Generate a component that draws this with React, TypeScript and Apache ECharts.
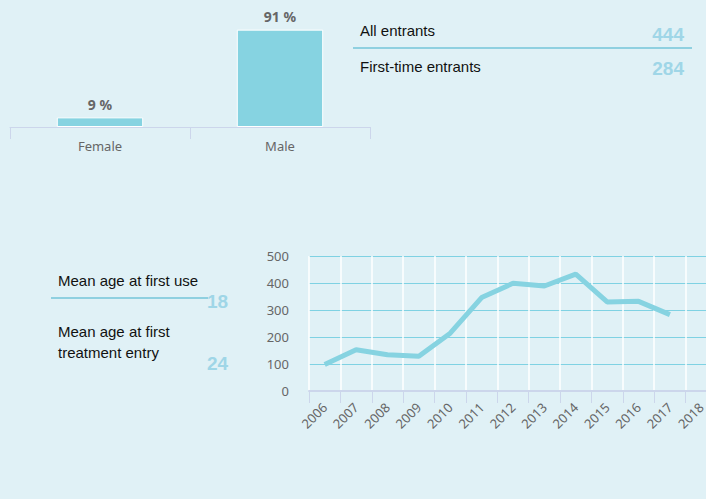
import React, { useEffect, useRef } from "react";
import * as echarts from "echarts";

const genderCategories = ["Female", "Male"];
const genderValues = [9, 91];

const years = ["2006", "2007", "2008", "2009", "2010", "2011", "2012", "2013", "2014", "2015", "2016", "2017", "2018"];
const entrantValues = [98, 153, 134, 129, 214, 346, 399, 389, 433, 330, 332, 283];
const yTicks = [0, 100, 200, 300, 400, 500];

const statLabels = ["All entrants", "First-time entrants"];
const statValues = ["444", "284"];
const ageLabels = ["Mean age at first use", "Mean age at first\ntreatment entry"];
const ageValues = ["18", "24"];

const BG = "#e0f1f6";
const CYAN = "#86d3e1";
const NUM = "#9fd6e7";
const AX = "#ccd6eb";
const TXT = "#666666";

export default function App() {
  const ref = useRef<HTMLDivElement>(null);
  useEffect(() => {
    if (!ref.current) return;
    const chart = echarts.init(ref.current, undefined, { renderer: "svg" });
    const font = "Liberation Sans, Arial, sans-serif";
    chart.setOption({
      animation: false,
      backgroundColor: BG,
      textStyle: { fontFamily: "Noto Sans, sans-serif" },
      grid: [
        { left: 10, width: 360, top: 20, height: 107 },
        { left: 309, width: 408, top: 256, height: 135 },
      ],
      xAxis: [
        {
          type: "category",
          gridIndex: 0,
          data: genderCategories,
          axisLine: { lineStyle: { color: AX } },
          axisTick: { show: true, length: 12, lineStyle: { color: AX } },
          axisLabel: { color: TXT, fontSize: 13, margin: 12 },
        },
        {
          type: "category",
          gridIndex: 1,
          data: years,
          boundaryGap: true,
          axisLine: { lineStyle: { color: AX, width: 2 } },
          axisTick: { show: true, length: 12, lineStyle: { color: AX } },
          axisLabel: { color: TXT, fontSize: 13, rotate: 45, margin: 14, interval: 0 },
          splitLine: { show: true, lineStyle: { color: "#ffffff", width: 1.5 } },
        },
      ],
      yAxis: [
        { type: "value", gridIndex: 0, min: 0, max: 100, show: false },
        {
          type: "value",
          gridIndex: 1,
          min: yTicks[0],
          max: yTicks[yTicks.length - 1],
          interval: 100,
          axisLine: { show: false },
          axisTick: { show: false },
          axisLabel: { color: TXT, fontSize: 13, margin: 20 },
          splitLine: { lineStyle: { color: "#7fd2e3", width: 1 } },
        },
      ],
      series: [
        {
          type: "bar",
          xAxisIndex: 0,
          yAxisIndex: 0,
          data: genderValues,
          barWidth: "48%",
          itemStyle: { color: CYAN, borderColor: "#ffffff", borderWidth: 1 },
          label: {
            show: true,
            position: "top",
            formatter: "{c} %",
            color: TXT,
            fontWeight: "bold",
            fontSize: 14,
            distance: 6,
          },
        },
        {
          type: "line",
          xAxisIndex: 1,
          yAxisIndex: 1,
          data: entrantValues,
          showSymbol: false,
          symbol: "none",
          lineStyle: { color: CYAN, width: 5 },
        },
      ],
      graphic: [
        { type: "text", x: 360, y: 23, style: { text: statLabels[0], font: `15px ${font}`, fill: "#111" } },
        { type: "text", x: 684, y: 25, style: { text: statValues[0], font: `bold 19px ${font}`, fill: NUM, align: "right" } },
        { type: "line", shape: { x1: 353, y1: 48, x2: 692, y2: 48 }, style: { stroke: "#8fd0e0", lineWidth: 2 } },
        { type: "text", x: 360, y: 59, style: { text: statLabels[1], font: `15px ${font}`, fill: "#111" } },
        { type: "text", x: 684, y: 59, style: { text: statValues[1], font: `bold 19px ${font}`, fill: NUM, align: "right" } },

        { type: "text", x: 58, y: 273, style: { text: ageLabels[0], font: `15px ${font}`, fill: "#111" } },
        { type: "line", shape: { x1: 51, y1: 298, x2: 208, y2: 298 }, style: { stroke: "#8fd0e0", lineWidth: 2 } },
        { type: "text", x: 207, y: 292, style: { text: ageValues[0], font: `bold 19px ${font}`, fill: NUM } },
        { type: "text", x: 58, y: 321, style: { text: ageLabels[1], font: `15px ${font}`, fill: "#111", lineHeight: 21 } },
        { type: "text", x: 207, y: 354, style: { text: ageValues[1], font: `bold 19px ${font}`, fill: NUM } },
      ],
    });
    return () => chart.dispose();
  }, []);
  return (
    <div style={{ position: "absolute", left: 0, top: 0, width: 706, height: 499, overflow: "hidden" }}>
      <div ref={ref} style={{ width: 722, height: 499 }} />
    </div>
  );
}
